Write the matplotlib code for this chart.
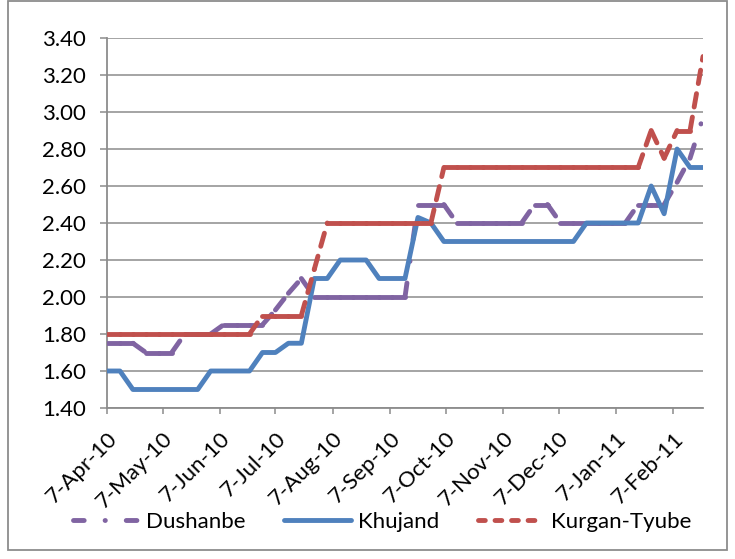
import matplotlib
matplotlib.use('Agg')
import matplotlib.pyplot as plt
import matplotlib.transforms as mtransforms
from matplotlib.lines import Line2D
from matplotlib.patches import Rectangle
import pandas as pd

# ---------------- data ----------------
start_date = '2010-04-07'
n_points = 47  # weekly observations

series_names = ['Dushanbe', 'Khujand', 'Kurgan-Tyube']

dushanbe = [1.75, 1.75, 1.75, 1.70, 1.70, 1.70, 1.80, 1.80, 1.80, 1.85,
            1.85, 1.85, 1.85, 1.93, 2.02, 2.10, 2.00, 2.00, 2.00, 2.00,
            2.00, 2.00, 2.00, 2.00, 2.50, 2.50, 2.50, 2.40, 2.40, 2.40,
            2.40, 2.40, 2.40, 2.50, 2.50, 2.40, 2.40, 2.40, 2.40, 2.40,
            2.40, 2.50, 2.50, 2.50, 2.62, 2.75, 2.97]

khujand = [1.60, 1.60, 1.50, 1.50, 1.50, 1.50, 1.50, 1.50, 1.60, 1.60,
           1.60, 1.60, 1.70, 1.70, 1.75, 1.75, 2.10, 2.10, 2.20, 2.20,
           2.20, 2.10, 2.10, 2.10, 2.43, 2.40, 2.30, 2.30, 2.30, 2.30,
           2.30, 2.30, 2.30, 2.30, 2.30, 2.30, 2.30, 2.40, 2.40, 2.40,
           2.40, 2.40, 2.60, 2.45, 2.80, 2.70, 2.70]

kurgan = [1.80, 1.80, 1.80, 1.80, 1.80, 1.80, 1.80, 1.80, 1.80, 1.80,
          1.80, 1.80, 1.90, 1.90, 1.90, 1.90, 2.15, 2.40, 2.40, 2.40,
          2.40, 2.40, 2.40, 2.40, 2.40, 2.40, 2.70, 2.70, 2.70, 2.70,
          2.70, 2.70, 2.70, 2.70, 2.70, 2.70, 2.70, 2.70, 2.70, 2.70,
          2.70, 2.70, 2.90, 2.75, 2.90, 2.90, 3.30]

y_ticks = [1.40, 1.60, 1.80, 2.00, 2.20, 2.40, 2.60, 2.80, 3.00, 3.20, 3.40]

x_tick_dates = ['2010-04-07', '2010-05-07', '2010-06-07', '2010-07-07',
                '2010-08-07', '2010-09-07', '2010-10-07', '2010-11-07',
                '2010-12-07', '2011-01-07', '2011-02-07']
x_tick_labels = ['7-Apr-10', '7-May-10', '7-Jun-10', '7-Jul-10', '7-Aug-10',
                 '7-Sep-10', '7-Oct-10', '7-Nov-10', '7-Dec-10', '7-Jan-11',
                 '7-Feb-11']

# ---------------- style ----------------
colors = ['#8064A2', '#4F81BD', '#C0504D']
# dash patterns inside the plot (restart at every vertex, like Excel)
plot_dashes = [(2.9, 4.5, 0.05, 4.5), None, (2.8, 2.1)]
# dash patterns of the legend samples
legend_dashes = [(2.2, 4.3, 0.05, 4.3), None, (1.4, 2.0)]
LW = 3.5
GRID = '#8C8C8C'
FONT = 'Lato'
FS = 16

plt.rcParams['font.family'] = [FONT, 'DejaVu Sans']

dates = pd.date_range(start_date, periods=n_points, freq='7D')
values = [dushanbe, khujand, kurgan]

W, H = 735, 559
fig = plt.figure(figsize=(W / 100, H / 100), dpi=100)
ax = fig.add_axes([107 / W, 1 - 408 / H, (703 - 107) / W, (408 - 38) / H])

# grid
for yv in y_ticks:
    ax.axhline(yv, color=GRID, lw=1.1, zorder=0)

# series: each segment drawn separately so the dash pattern restarts per vertex
for name, vals, col, dp in zip(series_names, values, colors, plot_dashes):
    if dp is None:
        ax.plot(dates, vals, color=col, lw=LW, solid_joinstyle='round',
                solid_capstyle='round', zorder=3)
    else:
        for i in range(len(vals) - 1):
            ax.plot(dates[i:i + 2], vals[i:i + 2], color=col, lw=LW,
                    dashes=dp, dash_capstyle='round', dash_joinstyle='round',
                    zorder=3)

ax.set_xlim(dates[0], dates[-1])
ax.set_ylim(y_ticks[0], y_ticks[-1])
ax.set_yticks(y_ticks)
ax.set_yticklabels([f'{v:.2f}' for v in y_ticks])
ax.set_xticks(pd.to_datetime(x_tick_dates))
ax.set_xticklabels(x_tick_labels, rotation=45, ha='right', va='top',
                   rotation_mode='anchor')
shift = mtransforms.ScaledTranslation(5 / 100, -2 / 100, fig.dpi_scale_trans)
for lab in ax.get_xticklabels():
    lab.set_transform(lab.get_transform() + shift)

for s in ['top', 'right']:
    ax.spines[s].set_visible(False)
for s in ['left', 'bottom']:
    ax.spines[s].set_color(GRID)
    ax.spines[s].set_linewidth(1.3)
    ax.spines[s].set_zorder(1)

ax.tick_params(axis='y', direction='out', length=5, width=1.1, color=GRID,
               labelsize=FS, pad=10)
ax.tick_params(axis='x', direction='out', length=4.5, width=1.1, color=GRID,
               labelsize=FS, pad=10)
ax.set_facecolor('white')

# legend
handles = []
for name, col, dp in zip(series_names, colors, legend_dashes):
    if dp is None:
        h = Line2D([], [], color=col, lw=LW, solid_capstyle='round')
    else:
        h = Line2D([], [], color=col, lw=LW, dashes=dp, dash_capstyle='round')
    handles.append(h)
fig.legend(handles, series_names, loc='center', bbox_to_anchor=(382 / W, 1 - 522 / H),
           ncol=3, frameon=False, fontsize=FS, handlelength=3.0,
           handletextpad=0.3, columnspacing=1.75, borderaxespad=0)

# chart-area border
fig.add_artist(Rectangle((8 / W, 1 - 550 / H), (727 - 8) / W, (550 - 1) / H,
                         transform=fig.transFigure, fill=False,
                         edgecolor='#8C8C8C', lw=1.3))

fig.savefig('out.png', dpi=100)
